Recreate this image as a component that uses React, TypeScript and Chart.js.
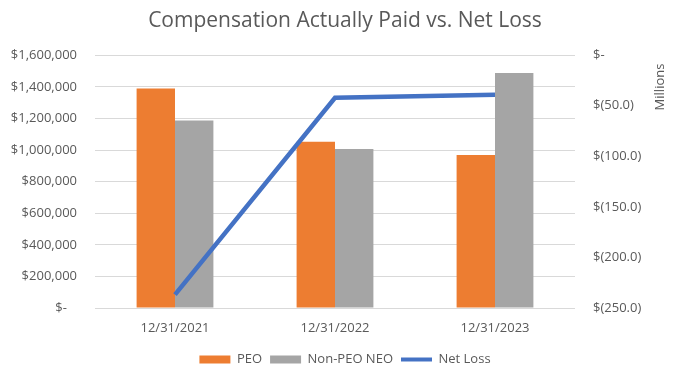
import React, { useEffect, useRef } from "react";
import { Chart, registerables } from "chart.js";

Chart.register(...registerables);

const categories = ["12/31/2021", "12/31/2022", "12/31/2023"];
const peoValues = [1390000, 1052000, 969000];
const nonPeoValues = [1186000, 1007000, 1487000];
const netLossMillions = [-236.7, -42.1, -39.2];
const seriesLabels = ["PEO", "Non-PEO NEO", "Net Loss"];
const titleText = "Compensation Actually Paid vs. Net Loss";
const rightAxisTitle = "Millions";

const FONT = "'Open Sans', 'DejaVu Sans', sans-serif";
const TEXT = "#595959";
const COLORS = ["#ED7D31", "#A5A5A5", "#4472C4"];

const millionsPlugin = {
  id: "millionsTitle",
  afterDraw(chart: any) {
    const ctx = chart.ctx;
    ctx.save();
    ctx.translate(660, 87);
    ctx.rotate(-Math.PI / 2);
    ctx.font = `13px ${FONT}`;
    ctx.fillStyle = TEXT;
    ctx.textAlign = "center";
    ctx.textBaseline = "middle";
    ctx.fillText(rightAxisTitle, 0, 0);
    ctx.restore();
  },
};

export default function App() {
  const ref = useRef<HTMLCanvasElement>(null);
  useEffect(() => {
    document.body.style.margin = "0";
    const chart = new Chart(ref.current!, {
      type: "bar",
      data: {
        labels: categories,
        datasets: [
          {
            label: seriesLabels[0],
            data: peoValues,
            backgroundColor: COLORS[0],
            yAxisID: "y",
            order: 1,
            categoryPercentage: 0.48,
            barPercentage: 1,
          } as any,
          {
            label: seriesLabels[1],
            data: nonPeoValues,
            backgroundColor: COLORS[1],
            yAxisID: "y",
            order: 1,
            categoryPercentage: 0.48,
            barPercentage: 1,
          },
          {
            type: "line",
            label: seriesLabels[2],
            data: netLossMillions,
            borderColor: COLORS[2],
            backgroundColor: COLORS[2],
            borderWidth: 4.5,
            pointRadius: 0,
            yAxisID: "y1",
            order: 0,
            tension: 0,
          },
        ],
      },
      options: {
        animation: false,
        responsive: false,
        layout: { padding: { left: 8, right: 0, top: 4, bottom: -8 } },
        plugins: {
          title: {
            display: true,
            text: titleText,
            color: TEXT,
            font: { family: FONT, size: 21, weight: "normal" },
            padding: { top: 4, bottom: 22 },
          },
          legend: {
            position: "bottom",
            labels: {
              color: TEXT,
              font: { family: FONT, size: 13 },
              usePointStyle: true,
              pointStyleWidth: 31,
              boxHeight: 8,
              padding: 8,
              generateLabels: (c: any) =>
                c.data.datasets.map((ds: any, i: number) => ({
                  text: ds.label,
                  fillStyle: COLORS[i],
                  strokeStyle: COLORS[i],
                  lineWidth: i === 2 ? 4 : 0,
                  pointStyle: i === 2 ? "line" : "rect",
                  hidden: false,
                  datasetIndex: i,
                  fontColor: TEXT,
                })),
            },
          },
          tooltip: { enabled: false },
        },
        scales: {
          x: {
            grid: { display: false, drawTicks: false },
            border: { display: false },
            ticks: { color: TEXT, font: { family: FONT, size: 13 }, padding: 12 },
            afterFit: (s: any) => {
              s.height = 37;
            },
          },
          y: {
            position: "left",
            min: 0,
            max: 1600000,
            ticks: {
              stepSize: 200000,
              color: TEXT,
              font: { family: FONT, size: 13 },
              padding: 18,
              callback: (v: any) => (v === 0 ? "$-   " : "$" + Number(v).toLocaleString("en-US")),
            },
            grid: { color: "#D9D9D9", drawTicks: false, lineWidth: 1 },
            border: { display: false },
            afterFit: (s: any) => {
              s.width = 87;
            },
          },
          y1: {
            position: "right",
            min: -250,
            max: 0,
            ticks: {
              stepSize: 50,
              color: TEXT,
              font: { family: FONT, size: 13 },
              padding: 18,
              callback: (v: any) => (v === 0 ? "$-" : "$(" + Math.abs(Number(v)).toFixed(1) + ")"),
            },
            grid: { display: false, drawTicks: false },
            border: { display: false },
            afterFit: (s: any) => {
              s.width = 107;
            },
          },
        },
      },
      plugins: [millionsPlugin],
    });
    return () => chart.destroy();
  }, []);
  return (
    <div style={{ position: "absolute", left: 0, top: 0, width: 682, height: 368, background: "#fff" }}>
      <canvas ref={ref} width={682} height={368} style={{ width: 682, height: 368 }} />
    </div>
  );
}
